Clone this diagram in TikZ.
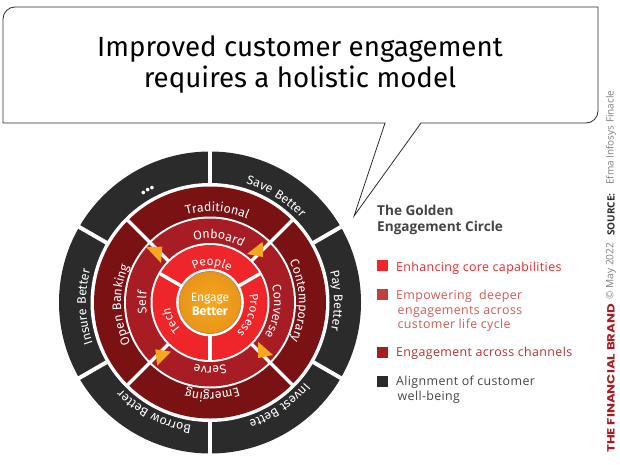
\documentclass[tikz,border=0pt]{standalone}
\usepackage{fontspec}
\setmainfont{Fira Sans}
\newfontfamily\brandfont{Poppins}
\newfontfamily\legendfont{Open Sans}
\newfontfamily\legendspaced[LetterSpace=3]{Open Sans}
\newfontfamily\ringfont[LetterSpace=5]{Fira Sans}
\usetikzlibrary{decorations.text}
\definecolor{ringdark}{HTML}{2B2B2B}
\definecolor{ringtwo}{HTML}{7A1214}
\definecolor{ringthree}{HTML}{A81C24}
\definecolor{ringfour}{HTML}{EE2529}
\definecolor{hubcol}{HTML}{F7A71E}
\definecolor{hubdark}{HTML}{E8951A}
\definecolor{legone}{HTML}{EE2529}
\definecolor{legtwo}{HTML}{C0403A}
\definecolor{legtwotxt}{HTML}{CE5C56}
\definecolor{legthree}{HTML}{A81C24}
\definecolor{legthreetxt}{HTML}{B5302F}
\definecolor{greytxt}{HTML}{444444}
\tikzset{
  x=1pt,y=1pt,
  gap/.style={white,line width=3.4pt},
  biggap/.style={white,line width=4pt},
  legsq/.style={minimum size=10.5pt,inner sep=0pt,anchor=north west},
  legtxt/.style={anchor=base west,inner sep=0pt,font=\legendspaced\fontsize{12.4}{12.4}\selectfont},
  sidetxt/.style={anchor=west,rotate=90,inner sep=0pt},
  pointer/.style={fill=hubcol,draw=none},
}
% radius, mid angle, size, text : text reads clockwise, tops outward
\newcommand\arclabel[4]{%
  \pgfmathsetmacro\arcA{#2+70}\pgfmathsetmacro\arcB{#2-70}%
  \path[decorate,decoration={text along path,text align=center,
    text={|\ringfont\fontsize{#3}{#3}\selectfont\color{white}|#4}}]
    (\arcA:#1) arc[start angle=\arcA,end angle=\arcB,radius=#1];}
\newcommand\arcdots[3]{%
  \pgfmathsetmacro\arcA{#2+70}\pgfmathsetmacro\arcB{#2-70}%
  \path[decorate,decoration={text along path,text align=center,
    text={|\ringfont\bfseries\fontsize{#3}{#3}\selectfont\color{white}|...}}]
    (\arcA:#1) arc[start angle=\arcA,end angle=\arcB,radius=#1];}
\begin{document}
\begin{tikzpicture}
\useasboundingbox (0,0) rectangle (620,464);
% speech bubble
\coordinate (tailL) at (385,341);
\coordinate (tailR) at (421,341);
\coordinate (tailTip) at (354,248);
\draw[line width=0.8pt,draw=ringdark,fill=white]
  (3,445) arc[start angle=180,end angle=90,radius=12] -- (598,457) -- (598,353)
  arc[start angle=0,end angle=-90,radius=12] -- (tailR) -- (tailTip) -- (tailL) -- (3,341) -- cycle;
\node[anchor=base,inner sep=0pt,align=center,font=\fontsize{27.7}{27.7}\selectfont] (title) at (300,407) {Improved customer engagement};
\node[anchor=base,inner sep=0pt,align=center,font=\fontsize{27.7}{27.7}\selectfont] (title2) at (300,376) {requires a holistic model};
% rings
\begin{scope}[shift={(210,161.5)}]
  \fill[ringdark] (0,0) circle[radius=151];
  \fill[white] (0,0) circle[radius=119.5];
  \foreach \a in {90,30,-30,-90,-150,150} \draw[biggap] (0,0) -- (\a:153);
  \fill[ringtwo] (0,0) circle[radius=116];
  \fill[white] (0,0) circle[radius=86];
  \fill[ringthree] (0,0) circle[radius=84];
  \fill[white] (0,0) circle[radius=59.5];
  \foreach \a in {45,135,-45,-135} \draw[gap] (\a:58) -- (\a:117);
  \fill[ringfour] (0,0) circle[radius=57.5];
  \foreach \a in {30,150,-90} \draw[gap] (0,0) -- (\a:58);
  \draw[white,line width=1.6pt,fill=white] (0,0) circle[radius=33];
  \shade[inner color=hubcol,middle color=hubcol,outer color=hubdark] (0,0) circle[radius=31];
  \draw[draw=gray!60!hubcol,line width=0.8pt] (0,0) circle[radius=31];
  \arclabel{124}{58}{12.5}{Save Better}
  \arclabel{124}{1}{12.5}{Pay Better}
  \arclabel{124}{-56}{12.5}{Invest Bette}
  \arclabel{124}{-117}{12.5}{Borrow Better}
  \arclabel{124}{182}{12.5}{Insure Better}
  \arclabel{91}{85.5}{12.5}{Traditional}
  \arclabel{89}{1}{12.5}{Contemporary}
  \arclabel{90}{-88.5}{12.5}{Emerging}
  \arclabel{89}{181.5}{12.5}{Open Banking}
  \arclabel{64}{82}{12.5}{Onboard}
  \arclabel{64}{-8}{12.5}{Converse}
  \arclabel{64}{-90}{12.5}{Serve}
  \arclabel{64}{180}{12.5}{Self}
  \arclabel{37}{87}{12}{People}
  \arclabel{40}{-18}{12}{Process}
  \arclabel{40}{-155}{12}{Tech}
  \arcdots{127}{119}{20}
\end{scope}
\node[anchor=base,inner sep=0pt,text=white,font=\fontsize{12}{12}\selectfont] (hub1) at (210,163) {Engage};
\node[anchor=base,inner sep=0pt,text=white,font=\bfseries\fontsize{12.5}{12.5}\selectfont] (hub2) at (210,149) {Better};
% orange pointers
\fill[pointer] (262.7,222.3) -- (263,207) -- (247,210) -- cycle;
\fill[pointer] (146,217) -- (162.3,217.3) -- (161,201) -- cycle;
\fill[pointer] (258,122.3) -- (273,109) -- (258,106) -- cycle;
\fill[pointer] (155.3,114.7) -- (171,112.3) -- (157.3,98.3) -- cycle;
% legend
\node[anchor=base west,inner sep=0pt,text=greytxt,font=\legendfont\bfseries\fontsize{13.6}{13.6}\selectfont] (leghead1) at (377,249) {The Golden};
\node[anchor=base west,inner sep=0pt,text=greytxt,font=\legendfont\bfseries\fontsize{13.6}{13.6}\selectfont] (leghead2) at (377,232.3) {Engagement Circle};
\node[legsq,fill=legone] (sq1) at (377,204) {};
\node[legsq,fill=legtwo] (sq2) at (377,175) {};
\node[legsq,fill=legthree] (sq3) at (377,117) {};
\node[legsq,fill=ringdark] (sq4) at (377,88) {};
\node[legtxt,text=legone] (leg1) at (396,193) {Enhancing core capabilities};
\node[legtxt,text=legtwotxt] (leg2a) at (396,164.7) {Empowering\ \ deeper};
\node[legtxt,text=legtwotxt] (leg2b) at (397.5,150) {engagements across};
\node[legtxt,text=legtwotxt] (leg2c) at (397.5,136) {customer life cycle};
\node[legtxt,text=legthreetxt] (leg3) at (396,107.3) {Engagement across channels};
\node[legtxt,text=greytxt] (leg4a) at (396,78.3) {Alignment of customer};
\node[legtxt,text=greytxt] (leg4b) at (397.5,63.3) {well-being};
% side credit
\node[sidetxt,text=legthree,font=\brandfont\bfseries\fontsize{10.5}{10.5}\selectfont] (brand) at (611,11) {\scalebox{1.27}[1]{THE FINANCIAL BRAND}};
\node[sidetxt,text=gray,font=\legendfont\fontsize{10.2}{10.2}\selectfont] (date) at (611,164) {© May 2022};
\node[sidetxt,text=ringdark,font=\legendfont\bfseries\fontsize{10}{10}\selectfont] (src) at (611,228) {SOURCE:};
\node[sidetxt,text=gray,font=\legendfont\fontsize{10}{10}\selectfont] (efma) at (611,279) {Efma Infosys Finacle};
\end{tikzpicture}
\end{document}
